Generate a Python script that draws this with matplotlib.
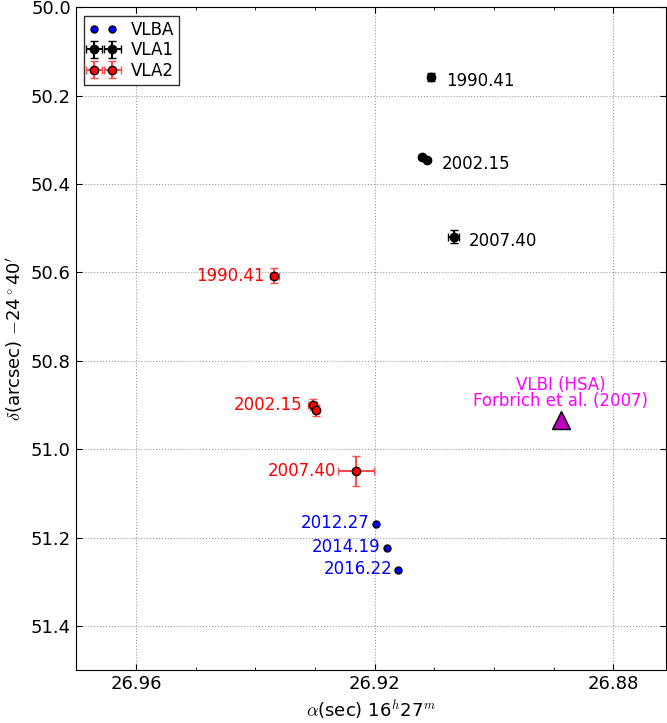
import matplotlib
matplotlib.use("Agg")
import matplotlib.pyplot as plt

plt.rcParams["mathtext.fontset"] = "cm"
plt.rcParams["font.size"] = 12

# VLBA positions
vlba_ra = [26.9198, 26.9180, 26.9161]
vlba_dec = [51.170, 51.224, 51.273]
vlba_epochs = ["2012.27", "2014.19", "2016.22"]

# VLA1 positions (2002.15 has two measurements)
vla1_ra = [26.9106, 26.9120, 26.9113, 26.9068]
vla1_dec = [50.158, 50.339, 50.345, 50.519]
vla1_ra_err = [0.0004, 0.0002, 0.0002, 0.0010]
vla1_dec_err = [0.010, 0.004, 0.004, 0.015]
vla1_labels = ["1990.41", "2002.15", "2007.40"]
vla1_label_idx = [0, 2, 3]

# VLA2 positions
vla2_ra = [26.9368, 26.9304, 26.9299, 26.9232]
vla2_dec = [50.607, 50.899, 50.912, 51.050]
vla2_ra_err = [0.0008, 0.0008, 0.0005, 0.0030]
vla2_dec_err = [0.017, 0.013, 0.012, 0.034]
vla2_labels = ["1990.41", "2002.15", "2007.40"]
vla2_label_idx = [0, 1, 3]
vla2_label_dx = [-10, -10, -20]

# VLBI (HSA) position
hsa_ra = [26.8888]
hsa_dec = [50.935]

fig = plt.figure(figsize=(6.67, 7.23), dpi=100)
ax = fig.add_axes([0.1135, 0.073, 0.885, 0.917])

ax.plot(vlba_ra, vlba_dec, "o", color="blue", mec="black", ms=5, label="VLBA")
ax.errorbar(vla1_ra, vla1_dec, xerr=vla1_ra_err, yerr=vla1_dec_err, fmt="o",
            color="black", mfc="black", mec="black", ms=6, capsize=3, label="VLA1")
ax.errorbar(vla2_ra, vla2_dec, xerr=vla2_ra_err, yerr=vla2_dec_err, fmt="o",
            color="red", ecolor=(1, 0.3, 0.3), mfc="red", mec="black", ms=6,
            capsize=3, label="VLA2")
ax.plot(hsa_ra, hsa_dec, "^", color="m", mec="black", ms=13)

for lab, i in zip(vla1_labels, vla1_label_idx):
    ax.annotate(lab, (vla1_ra[i], vla1_dec[i]), xytext=(15, -4),
                textcoords="offset pixels", ha="left", va="center", color="black")
for lab, i, dx in zip(vla2_labels, vla2_label_idx, vla2_label_dx):
    ax.annotate(lab, (vla2_ra[i], vla2_dec[i]), xytext=(dx, 0),
                textcoords="offset pixels", ha="right", va="center", color="red")
for lab, x, y in zip(vlba_epochs, vlba_ra, vlba_dec):
    ax.annotate(lab, (x, y), xytext=(-6, 1), textcoords="offset pixels",
                ha="right", va="center", color="blue")
ax.annotate("VLBI (HSA)\nForbrich et al. (2007)", (hsa_ra[0], hsa_dec[0]),
            xytext=(0, 10), textcoords="offset pixels", ha="center", va="bottom",
            color="magenta", linespacing=0.9)

ax.set_xlim(26.9701, 26.8712)
ax.set_ylim(51.5, 50.0)
ax.set_xticks([26.96, 26.92, 26.88])
ax.set_xticks([26.95, 26.94, 26.93, 26.91, 26.90, 26.89], minor=True)
ax.set_yticks([50.0, 50.2, 50.4, 50.6, 50.8, 51.0, 51.2, 51.4])
ax.tick_params(which="both", direction="in", top=True, right=True, labelsize=13)
ax.tick_params(which="major", length=4)
ax.tick_params(which="minor", length=2)
ax.grid(True, which="major", linestyle=":", color="0.6")

ax.set_xlabel(r"$\alpha$(sec) 16$^h$27$^m$", fontsize=13)
ax.set_ylabel(r"$\delta$(arcsec) $-$24$^\circ$40$^\prime$", fontsize=13)

leg = ax.legend(loc="upper left", numpoints=2, fancybox=False, fontsize=12,
                borderaxespad=0.5, borderpad=0.3, labelspacing=0.15,
                handlelength=1.7, handletextpad=0.8)
leg.get_frame().set_edgecolor("black")

fig.savefig("out.png", dpi=100)
